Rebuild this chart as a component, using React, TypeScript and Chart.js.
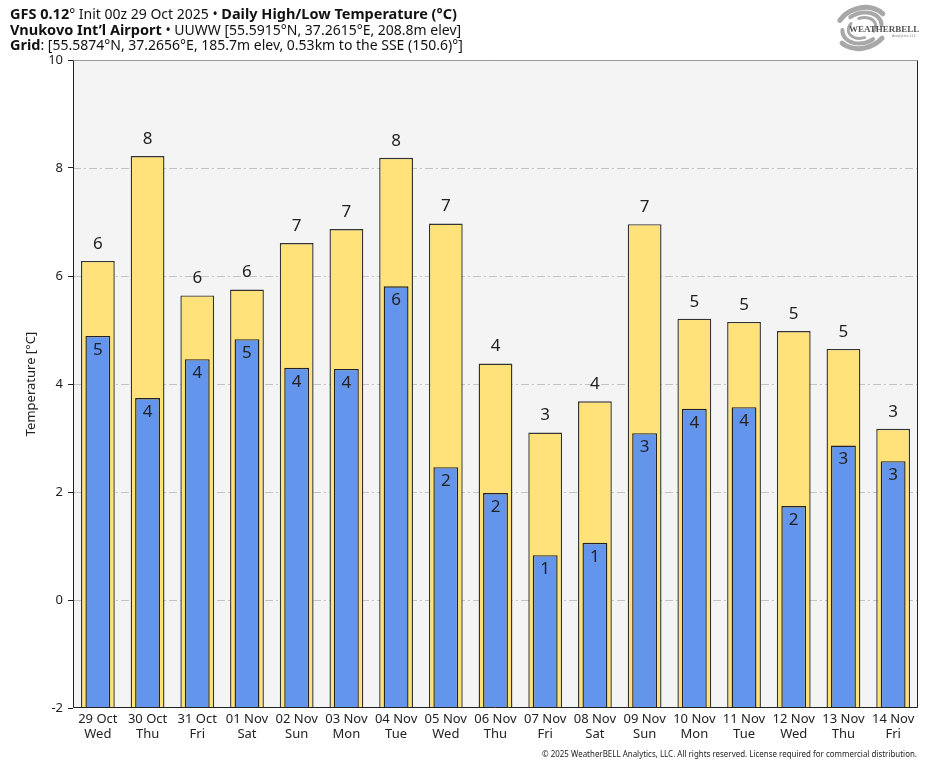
import React, { useEffect, useRef } from "react";
import { Chart, registerables } from "chart.js";

Chart.register(...registerables);

const categories = ["29 Oct", "30 Oct", "31 Oct", "01 Nov", "02 Nov", "03 Nov", "04 Nov", "05 Nov", "06 Nov", "07 Nov", "08 Nov", "09 Nov", "10 Nov", "11 Nov", "12 Nov", "13 Nov", "14 Nov"];
const weekdays = ["Wed", "Thu", "Fri", "Sat", "Sun", "Mon", "Tue", "Wed", "Thu", "Fri", "Sat", "Sun", "Mon", "Tue", "Wed", "Thu", "Fri"];
const highs = [6.28, 8.22, 5.64, 5.75, 6.61, 6.87, 8.19, 6.97, 4.38, 3.1, 3.68, 6.96, 5.21, 5.15, 4.98, 4.65, 3.17];
const lows = [4.89, 3.74, 4.46, 4.83, 4.3, 4.28, 5.81, 2.46, 1.98, 0.83, 1.06, 3.09, 3.54, 3.57, 1.74, 2.86, 2.57];
const yMin = -2;
const yMax = 10;
const gridValues = [8, 6, 4, 2, 0];

const FONT = "'Noto Sans', 'DejaVu Sans', sans-serif";

const headerLines: [string, boolean][][] = [
  [["GFS 0.12", true], ["°", false], [" Init 00z 29 Oct 2025 • ", false], ["Daily High/Low Temperature (°C)", true]],
  [["Vnukovo Int’l Airport", true], [" • UUWW [55.5915°N, 37.2615°E, 208.8m elev]", false]],
  [["Grid", true], [": [55.5874°N, 37.2656°E, 185.7m elev, 0.53km to the SSE (150.6)°]", false]],
];
const footerText = "© 2025 WeatherBELL Analytics, LLC. All rights reserved. License required for commercial distribution.";

const decorPlugin = {
  id: "decor",
  beforeDatasetsDraw(chart: any) {
    const { ctx, chartArea } = chart;
    const { left, top, right, bottom } = chartArea;
    ctx.save();
    ctx.fillStyle = "#f4f4f4";
    ctx.fillRect(left, top, right - left, bottom - top);
    const ys = chart.scales.y;
    ctx.strokeStyle = "#c4c4c4";
    ctx.lineWidth = 1;
    ctx.setLineDash([8, 3, 2, 3]);
    gridValues.forEach((v) => {
      const y = Math.round(ys.getPixelForValue(v)) + 0.5;
      ctx.beginPath();
      ctx.moveTo(left, y);
      ctx.lineTo(right, y);
      ctx.stroke();
    });
    ctx.restore();
  },
  afterDatasetsDraw(chart: any) {
    const { ctx, chartArea } = chart;
    ctx.save();
    ctx.font = `17px ${FONT}`;
    ctx.fillStyle = "#222";
    ctx.textAlign = "center";
    ctx.textBaseline = "middle";
    const metaHigh = chart.getDatasetMeta(1);
    const metaLow = chart.getDatasetMeta(0);
    metaHigh.data.forEach((el: any, i: number) => {
      ctx.fillText(String(Math.round(highs[i])), el.x, el.y - 17);
    });
    metaLow.data.forEach((el: any, i: number) => {
      ctx.fillText(String(Math.round(lows[i])), el.x, el.y + 14);
    });
    ctx.setLineDash([]);
    ctx.lineWidth = 1;
    const l = Math.round(chartArea.left) + 0.5;
    const t = Math.round(chartArea.top) + 0.5;
    const r = Math.round(chartArea.right) - 0.5;
    const b = Math.round(chartArea.bottom) - 0.5;
    ctx.strokeStyle = "#999";
    ctx.beginPath();
    ctx.moveTo(l, t);
    ctx.lineTo(r, t);
    ctx.stroke();
    ctx.strokeStyle = "#222";
    ctx.beginPath();
    ctx.moveTo(r, t);
    ctx.lineTo(r, b);
    ctx.lineTo(l, b);
    ctx.lineTo(l, t);
    ctx.stroke();
    ctx.restore();
  },
  afterDraw(chart: any) {
    const { ctx } = chart;
    ctx.save();
    ctx.fillStyle = "#111";
    ctx.textBaseline = "alphabetic";
    ctx.textAlign = "left";
    const baselines = [19, 35, 50];
    headerLines.forEach((segs, li) => {
      let x = 10;
      segs.forEach(([txt, bold]) => {
        ctx.font = bold ? `bold 14.5px ${FONT}` : `14px ${FONT}`;
        ctx.fillText(txt, x, baselines[li]);
        x += ctx.measureText(txt).width;
      });
    });
    ctx.font = `9px ${FONT}`;
    ctx.fillStyle = "#222";
    const w = ctx.measureText(footerText).width;
    const target = 375;
    ctx.save();
    ctx.translate(917, 757);
    ctx.scale(target / w, 1);
    ctx.textAlign = "right";
    ctx.fillText(footerText, 0, 0);
    ctx.restore();
    ctx.save();
    ctx.translate(862, 28);
    ctx.strokeStyle = "#a8a8a8";
    ctx.lineCap = "round";
    const arcs = [
      [26, 20, 0.9, 2.7, 5],
      [20, 15, 1.2, 3.4, 4],
      [14, 10, 1.6, 4.0, 3],
      [26, 20, 3.9, 5.9, 5],
      [20, 15, 4.3, 6.5, 4],
      [14, 10, 4.7, 7.0, 3],
    ];
    arcs.forEach(([rx, ry, a0, a1, lw]) => {
      ctx.lineWidth = lw;
      ctx.beginPath();
      ctx.ellipse(0, 0, rx, ry, -0.3, a0, a1);
      ctx.stroke();
    });
    ctx.restore();
    ctx.fillStyle = "#555";
    ctx.font = `bold 9px 'Liberation Serif', serif`;
    ctx.textAlign = "left";
    ctx.fillText("WEATHERBELL", 849, 32);
    ctx.font = `4px ${FONT}`;
    ctx.fillStyle = "#888";
    ctx.fillText("Analytics LLC", 892, 37);
    ctx.restore();
  },
};

export default function App() {
  const ref = useRef<HTMLCanvasElement | null>(null);
  useEffect(() => {
    if (!ref.current) return;
    const chart = new Chart(ref.current, {
      type: "bar",
      data: {
        labels: categories.map((c, i) => [c, weekdays[i]]),
        datasets: [
          {
            label: "Low",
            data: lows,
            base: yMin,
            backgroundColor: "#6495ed",
            borderColor: "#222",
            borderWidth: 1.4,
            barPercentage: 0.5,
            categoryPercentage: 1,
            grouped: false,
            order: 0,
          } as any,
          {
            label: "High",
            data: highs,
            base: yMin,
            backgroundColor: "#ffe37a",
            borderColor: "#333",
            borderWidth: 1.4,
            barPercentage: 0.68,
            categoryPercentage: 1,
            grouped: false,
            order: 1,
          } as any,
        ],
      },
      options: {
        animation: false,
        responsive: false,
        devicePixelRatio: 1,
        layout: { padding: { left: 0, top: 60, right: 17, bottom: 0 } },
        plugins: {
          legend: { display: false },
          tooltip: { enabled: false },
          title: { display: false },
        },
        scales: {
          x: {
            grid: { display: false, drawTicks: false },
            border: { display: false },
            ticks: {
              color: "#222",
              font: { family: FONT, size: 13, lineHeight: 1.15 },
              padding: 4,
              maxRotation: 0,
              autoSkip: false,
            },
            afterFit(scale: any) {
              scale.height = 60;
            },
          },
          y: {
            min: yMin,
            max: yMax,
            grid: {
              display: true,
              drawOnChartArea: false,
              drawTicks: true,
              tickLength: 5,
              tickColor: "#222",
              tickWidth: 1,
            },
            border: { display: false },
            ticks: {
              stepSize: 2,
              color: "#222",
              font: { family: FONT, size: 13 },
              padding: 5,
            },
            title: {
              display: true,
              text: "Temperature [°C]",
              color: "#222",
              font: { family: FONT, size: 13 },
              padding: { top: 23, bottom: 0 },
            },
            afterFit(scale: any) {
              scale.width = 73;
            },
          },
        },
      },
      plugins: [decorPlugin],
    });
    return () => chart.destroy();
  }, []);
  return (
    <div style={{ position: "absolute", left: 0, top: 0, width: 935, height: 768, background: "#fff" }}>
      <canvas ref={ref} width={935} height={768} style={{ display: "block", width: 935, height: 768 }} />
    </div>
  );
}
